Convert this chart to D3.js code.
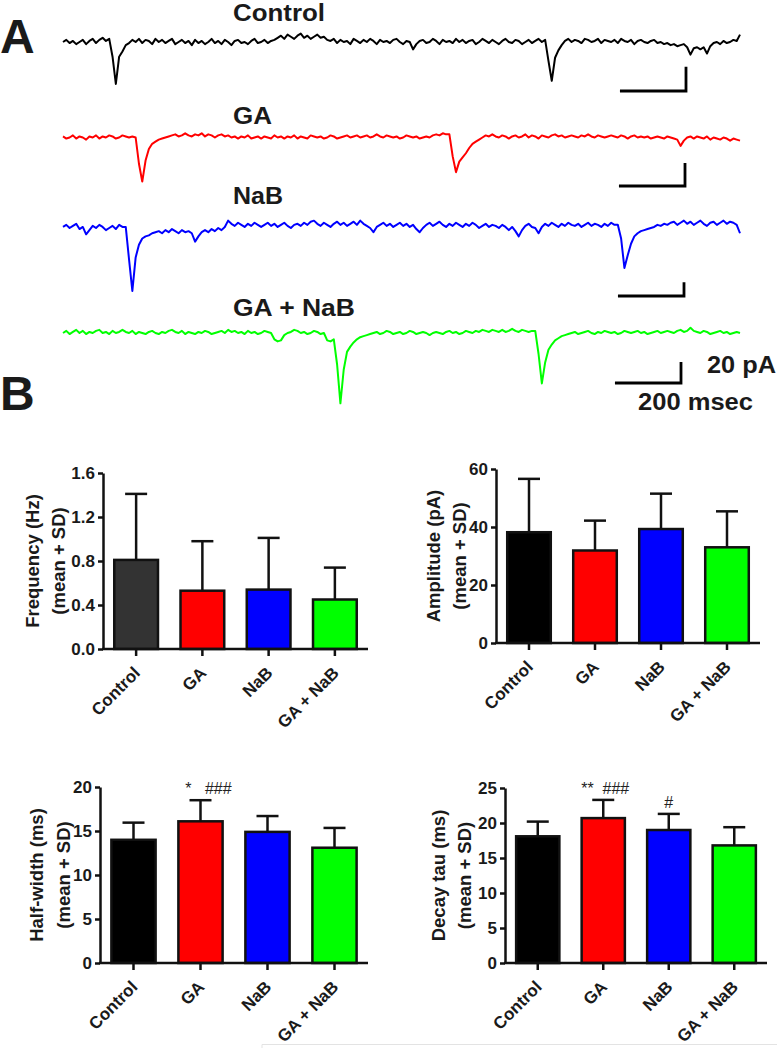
<!DOCTYPE html>
<html>
<head>
<meta charset="utf-8">
<script src="https://cdn.jsdelivr.net/npm/d3@7"></script>
<style>
  html, body { margin: 0; padding: 0; background: #fff; }
  svg { display: block; font-family: "Liberation Sans", Arial, Helvetica, sans-serif; }
</style>
</head>
<body>
<svg id="fig" width="777" height="1048"></svg>
<script>
// ---------------- DATA ----------------
const traceNames = ["Control", "GA", "NaB", "GA + NaB"];
const traceColors = ["#000000", "#ff0000", "#0000ff", "#00ff00"];
const sampleMs = 10;
// current (pA, relative to baseline; negative = inward) sampled every 10 ms
const traceControl = [0,2,-1,1,-2,0,2,-2,1,3,-1,2,4,1,
  3,-14,-40,-14,-9,-3,
  -1,2,0,3,-1,2,1,-2,3,0,2,-1,1,3,-2,0,2,-1,1,-3,
  2,-1,1,-2,0,3,-1,1,-2,2,0,-3,1,2,-1,0,-2,1,3,-1,0,2,-1,1,2,
  4,6,3,7,5,3,6,8,4,6,3,5,7,4,5,2,
  1,3,-1,2,0,1,-2,3,1,-1,2,0,3,1,-2,2,0,1,-1,2,3,0,-2,1,0,
  -7,
  -2,1,2,-1,0,3,1,-2,2,0,1,-1,3,0,2,-1,1,2,-2,0,3,1,-1,2,0,-2,1,3,0,-1,2,1,-2,0,2,-1,1,3,0,
  2,-18,-37,-15,-8,-3,
  1,3,0,2,1,-1,3,2,0,1,3,-1,2,1,0,2,-1,3,1,0,2,-2,1,2,0,-1,1,2,-1,0,-2,-1,
  -3,-2,-4,-3,-2,-5,-12,-6,-5,-7,-5,-11,
  -4,-1,0,-2,1,-1,0,2,1,7];
const traceGA = [1,-1,0,2,-1,1,0,-2,1,0,2,-1,1,0,2,1,-1,0,2,1,0,1,
  0,-25,-42,-22,-11,-6,-4,-2,-1,
  0,1,2,3,1,2,4,2,1,3, 2,4,1,3,2,0,2,3,1,2, 0,1,-1,1,0,2,-1,0,1,-1,
  1,0,-1,2,0,1,-1,1,0,2, -1,1,0,-1,2,1,0,1,-1,0, 2,1,-1,0,1,2,0,1,2,0,
  1,2,0,1,3,1,0,2,1,0, 1,-1,0,2,1,0,1,-1,0,1, 0,2,3,2,4,3,
  3,-18,-33,-23,-19,-15,-10,-6,-4,-2,
  0,2,1,3,1,0,2,1,-1,1, 2,0,1,3,0,2,1,-1,2,1, 0,2,3,1,2,0,1,2,1,0,
  2,1,3,1,0,2,1,0,1,2, 1,0,2,1,-1,1,2,0,1,0, 1,-1,0,1,0,-1,1,0,-1,-2,
  -8,-3,
  0,1,-1,1,0,-1,1,-2,0,-1,-2,0,-1,-3,-1,-2,-3];
const traceNaB = [1,3,0,2,4,-1,1,-6,-2,2,0,3,1,-2,0,2,-1,3,1,
  1,-30,-60,-28,-16,-10,-8,-7,-5,-4,
  -3,-5,-2,-4,-1,-3,-5,-2,-4,-3,-5,
  -13,-8,
  -4,-2,-4,-1,-3,0,-2,1,
  7,
  4,2,5,3,1,4,2,5,3,1, 3,5,2,4,1,3,5,2,0,3, 4,2,5,3,6,7,4,2,5,3,
  1,4,6,3,5,2,4,6,3,7, 4,2,0,-4,1,3,5,2,4,1, 3,5,2,4,1,3,-1,-4,0,3,
  5,2,4,6,3,1,4,2,5,3, 1,4,2,5,3,0,2,4,1,3, 2,0,3,1,-2,1,-3,-8,-2,2, 4,1,0,
  -5,
  1,4,2,5,3,1,4,2,5,3,2,4,1,3,5,2,4,3,1,4,2,5,3,
  3,-10,-38,-26,-15,-8,-5,-3,-2,-1,0,
  1,3,2,4,3,5,6,3,5,7,4,6,3,5,7,4,2,5,6,3,5,7,4,6,5,3,
  -5];
const traceGANaB = [0,2,-1,1,3,0,2,-1,1,0, 2,3,0,1,-1,2,0,1,3,1, 0,2,-1,1,0,-1,1,2,0,-1,
  1,0,2,3,1,0,2,-1,1,0, -1,1,0,2,1,-1,0,1,2,0, 3,1,2,0,1,-1,2,0,1,-1, 0,2,1,0,
  -6,-8,-7,-2,
  0,1,3,2,0,1,-1,0,2,1,-1,0,
  -7,-8,
  -6,-30,-67,-35,-18,-13,-9,-6,-4,-3,-2,
  -1,0,1,-1,0,2,1,-1,0,1, -1,0,2,1,-1,0,1,0,-2,0, 1,0,-1,1,2,0,1,-1,0,2,
  1,0,2,1,3,2,1,3,2,1, 3,1,2,4,2,1,3,2,1,2,
  2,-20,-48,-28,-16,-11,-7,-5,-3,-2,
  -1,0,1,-1,0,1,2,0,-1,1, 0,2,1,0,1,-1,0,2,1,0, 1,2,0,1,-1,0,1,2,0,1,
  2,1,0,2,3,1,2,5,2,1, 0,2,1,-1,0,1,2,0,1,-1, 0,1,0];
const traces = [traceControl, traceGA, traceNaB, traceGANaB];
const scaleBarMs = 200;
const scaleBarPA = [23, 22, 13, 20];

const categories = ["Control", "GA", "NaB", "GA + NaB"];
const freqMean = [0.81, 0.53, 0.54, 0.45];
const freqSD   = [0.60, 0.45, 0.47, 0.29];
const freqTicks = [0, 0.4, 0.8, 1.2, 1.6];
const ampMean = [38.2, 31.9, 39.3, 33.0];
const ampSD   = [18.4, 10.3, 12.2, 12.4];
const ampTicks = [0, 20, 40, 60];
const halfMean = [14.0, 16.1, 14.9, 13.1];
const halfSD   = [1.95, 2.4, 1.8, 2.25];
const halfTicks = [0, 5, 10, 15, 20];
const halfSig = ["", "*   ###", "", ""];
const decayMean = [18.1, 20.7, 19.0, 16.8];
const decaySD   = [2.1, 2.6, 2.3, 2.6];
const decayTicks = [0, 5, 10, 15, 20, 25];
const decaySig = ["", "**  ###", "#", ""];
const freqColors = ["#333333", "#ff0000", "#0000ff", "#00ff00"];
const barColors  = ["#000000", "#ff0000", "#0000ff", "#00ff00"];

// ---------------- DRAW ----------------
const svg = d3.select("#fig");
svg.append("rect").attr("width", 777).attr("height", 1048).attr("fill", "#fff");

// Panel letters
svg.append("text").attr("x", 0).attr("y", 53).attr("font-size", 48).attr("font-weight", "bold")
  .attr("fill", "#1a1a1a").text("A");
svg.append("text").attr("x", 0).attr("y", 410).attr("font-size", 48).attr("font-weight", "bold")
  .attr("fill", "#1a1a1a").text("B");

// Traces
const nS = traceControl.length;
const xT = d3.scaleLinear().domain([0, (nS - 1) * sampleMs]).range([63, 740]);
const pxPerPA = 1.05;
const baselines = [42, 137.5, 228, 333];
const labelY = [20.5, 123.5, 203.5, 315.5];
const labelW = [92, 39, 50, 122];
const barAnchor = [[686, 91], [685, 186], [684, 296], [681, 383]];

traces.forEach((tr, k) => {
  const yT = d3.scaleLinear().domain([-1, 1]).range([baselines[k] + pxPerPA, baselines[k] - pxPerPA]);
  const line = d3.line().x((d, i) => xT(i * sampleMs)).y(d => yT(d));
  svg.append("path").datum(tr).attr("d", line).attr("fill", "none")
    .attr("stroke", traceColors[k]).attr("stroke-width", 2).attr("stroke-linejoin", "round");
  svg.append("text").attr("x", 233).attr("y", labelY[k]).attr("font-size", 23).attr("font-weight", "bold")
    .attr("fill", "#1a1a1a").attr("textLength", labelW[k]).attr("lengthAdjust", "spacingAndGlyphs")
    .text(traceNames[k]);
  // scale bar
  const [ax, ay] = barAnchor[k];
  const wBar = xT(scaleBarMs) - xT(0);
  const hBar = yT(0) - yT(scaleBarPA[k]);
  svg.append("path").attr("d", `M${ax - wBar},${ay}H${ax}V${ay - hBar}`)
    .attr("fill", "none").attr("stroke", "#000").attr("stroke-width", 2.8);
});
svg.append("text").attr("x", 707).attr("y", 373).attr("font-size", 23).attr("font-weight", "bold")
  .attr("fill", "#1a1a1a").attr("textLength", 69).attr("lengthAdjust", "spacingAndGlyphs").text("20 pA");
svg.append("text").attr("x", 638).attr("y", 410).attr("font-size", 23).attr("font-weight", "bold")
  .attr("fill", "#1a1a1a").attr("textLength", 115).attr("lengthAdjust", "spacingAndGlyphs").text("200 msec");

// Bar panels
function barPanel(cfg) {
  const g = svg.append("g");
  const x = d3.scaleBand().domain(categories).range([cfg.x0, cfg.x1]).paddingInner(0.34).paddingOuter(0.17);
  const y = d3.scaleLinear().domain([0, cfg.max]).range([cfg.y0, cfg.yTop]);
  const bw = x.bandwidth();
  const capW = 22;
  // error bars
  categories.forEach((c, i) => {
    const cx = x(c) + bw / 2;
    const top = y(cfg.mean[i] + cfg.sd[i]);
    g.append("line").attr("x1", cx).attr("x2", cx).attr("y1", y(cfg.mean[i])).attr("y2", top)
      .attr("stroke", "#111").attr("stroke-width", 2.5);
    g.append("line").attr("x1", cx - capW / 2).attr("x2", cx + capW / 2).attr("y1", top).attr("y2", top)
      .attr("stroke", "#111").attr("stroke-width", 2.5);
    if (cfg.sig && cfg.sig[i]) {
      g.append("text").attr("x", cx + (cfg.sigDx ? cfg.sigDx[i] : 0)).attr("y", top - 6)
        .attr("text-anchor", "middle").attr("font-size", 16).attr("fill", "#222")
        .style("white-space", "pre").text(cfg.sig[i]);
    }
  });
  // bars
  g.selectAll("rect.bar").data(categories).join("rect").attr("class", "bar")
    .attr("x", c => x(c)).attr("width", bw)
    .attr("y", (c, i) => y(cfg.mean[i])).attr("height", (c, i) => y(0) - y(cfg.mean[i]))
    .attr("fill", (c, i) => cfg.colors[i]).attr("stroke", "#111").attr("stroke-width", 2.5);
  // y axis
  const ya = g.append("g").attr("transform", `translate(${cfg.x0},0)`)
    .call(d3.axisLeft(y).tickValues(cfg.ticks).tickSize(5).tickSizeOuter(0).tickPadding(3)
      .tickFormat(cfg.fmt));
  ya.selectAll("path, line").attr("stroke", "#111").attr("stroke-width", 2.5);
  ya.selectAll("text").attr("font-size", 17).attr("font-weight", "bold").attr("fill", "#1a1a1a")
    .attr("font-family", "Liberation Sans, Arial, sans-serif");
  // x axis
  const xa = g.append("g").attr("transform", `translate(0,${cfg.y0})`)
    .call(d3.axisBottom(x).tickSize(7).tickSizeOuter(0));
  xa.select("path.domain").attr("d", `M${cfg.x0 - 1},0H${cfg.x1}`);
  xa.selectAll("path, line").attr("stroke", "#111").attr("stroke-width", 2.5);
  xa.selectAll("text").attr("font-size", 17).attr("font-weight", "bold").attr("fill", "#1a1a1a")
    .attr("font-family", "Liberation Sans, Arial, sans-serif")
    .attr("text-anchor", "end").attr("x", 0).attr("y", 0).attr("dy", 0)
    .attr("transform", "translate(5,25) rotate(-45)");
  // y title
  const cy = (cfg.y0 + cfg.yTop) / 2;
  cfg.title.forEach((t, j) => {
    g.append("text").attr("transform", `translate(${cfg.titleX[j]},${cy}) rotate(-90)`)
      .attr("text-anchor", "middle").attr("font-size", 18.5).attr("font-weight", "bold")
      .attr("fill", "#1a1a1a").text(t);
  });
}

barPanel({ x0: 103, x1: 368, y0: 649, yTop: 473, max: 1.6, ticks: freqTicks, fmt: d3.format(".1f"),
  mean: freqMean, sd: freqSD, colors: freqColors, title: ["Frequency (Hz)", "(mean + SD)"], titleX: [39, 65] });
barPanel({ x0: 496, x1: 760, y0: 643, yTop: 469, max: 60, ticks: ampTicks, fmt: d3.format("d"),
  mean: ampMean, sd: ampSD, colors: barColors, title: ["Amplitude (pA)", "(mean + SD)"], titleX: [440, 466] });
barPanel({ x0: 100, x1: 368, y0: 963, yTop: 787, max: 20, ticks: halfTicks, fmt: d3.format("d"),
  mean: halfMean, sd: halfSD, colors: barColors, sig: halfSig, sigDx: [0, 8, 0, 0],
  title: ["Half-width (ms)", "(mean + SD)"], titleX: [43, 70] });
barPanel({ x0: 505, x1: 767, y0: 963, yTop: 788, max: 25, ticks: decayTicks, fmt: d3.format("d"),
  mean: decayMean, sd: decaySD, colors: barColors, sig: decaySig, sigDx: [0, 2, 0, 0],
  title: ["Decay tau (ms)", "(mean + SD)"], titleX: [445, 471] });

// faint frame line at bottom
svg.append("path").attr("d", "M262,1048V1044.5H777").attr("fill", "none").attr("stroke", "#e3e3e3").attr("stroke-width", 1);
</script>
</body>
</html>
